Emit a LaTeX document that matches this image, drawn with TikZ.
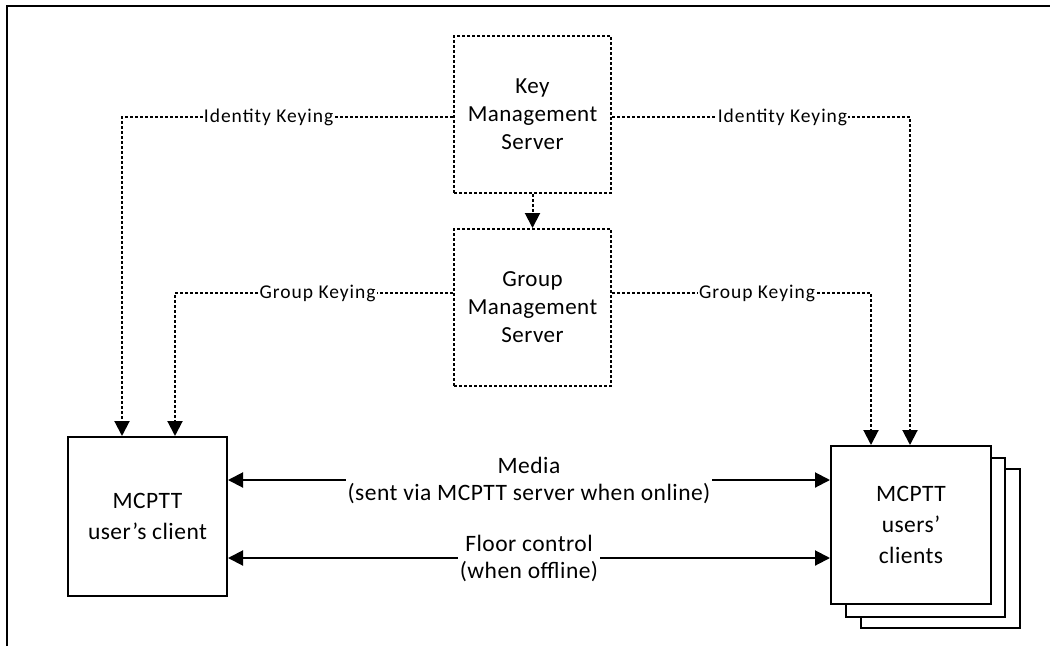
\documentclass[tikz,border=0pt]{standalone}
\usepackage{fontspec}
\setmainfont{Carlito}
\newfontfamily\lblfont[LetterSpace=5]{Carlito}
\newfontfamily\boxfont[LetterSpace=2]{Carlito}
\usetikzlibrary{arrows.meta}
\begin{document}
\begin{tikzpicture}[x=1pt,y=1pt,
  dbox/.style={draw, line width=2pt, dash pattern=on 3pt off 2pt, fill=white, align=center,
    font=\boxfont\fontsize{23}{28}\selectfont, minimum width=157pt, minimum height=157pt, inner sep=0pt},
  sbox/.style={draw, line width=2pt, fill=white, align=center,
    font=\boxfont\fontsize{23.5}{31}\selectfont, inner sep=0pt},
  conn/.style={line width=2pt, dash pattern=on 3pt off 2pt, -{Triangle[length=15pt,width=15pt]}},
  sconn/.style={line width=2pt, {Triangle[length=15pt,width=15pt]}-{Triangle[length=15pt,width=15pt]}},
  lbl/.style={fill=white, inner xsep=1pt, inner ysep=1pt, font=\lblfont\fontsize{19.5}{22}\selectfont},
  mlbl/.style={fill=white, inner xsep=2pt, inner ysep=0pt, align=center, font=\boxfont\fontsize{23.5}{27}\selectfont}]
\useasboundingbox (0,0) rectangle (1050,-646);
\draw[line width=2pt] (7,-646) -- (7,-6) -- (1050,-6);

% servers
\node[dbox] (kms) at (532.5,-114.5) {Key\\Management\\Server};
\node[dbox] (gms) at (532.5,-307.5) {Group\\Management\\Server};

% clients
\node[sbox, minimum width=159pt, minimum height=159pt] (lc) at (147.5,-516.5) {MCPTT\\user’s client};
\node[sbox, minimum width=159pt, minimum height=159pt] (rc3) at (940.5,-548.5) {};
\node[sbox, minimum width=159pt, minimum height=159pt] (rc2) at (925.5,-537.5) {};
\node[sbox, minimum width=160pt, minimum height=158pt] (rc) at (911,-525) {MCPTT\\users’\\clients};

% corners of the keying connectors
\coordinate (idL) at (122,-117);
\coordinate (idR) at (910,-117);
\coordinate (grL) at (175,-293);
\coordinate (grR) at (871,-293);

\draw[conn] (kms.west |- idL) -- node[lbl, pos=0.557] (lidl) {Identity Keying} (idL) -- (idL |- lc.north);
\draw[conn] (kms.east |- idR) -- node[lbl, pos=0.572] (lidr) {Identity Keying} (idR) -- (idR |- rc.north);
\draw[conn] (gms.west |- grL) -- node[lbl, pos=0.487] (lgrl) {Group Keying} (grL) -- (grL |- lc.north);
\draw[conn] (gms.east |- grR) -- node[lbl, pos=0.56] (lgrr) {Group Keying} (grR) -- (grR |- rc.north);
\draw[conn] (kms.south) -- (gms.north);

\draw[sconn] (lc.east |- 0,-480) -- node[mlbl] (media) {Media\\(sent via MCPTT server when online)} (rc.west |- 0,-480);
\draw[sconn] (lc.east |- 0,-558) -- node[mlbl] (floor) {Floor control\\(when offline)} (rc.west |- 0,-558);
\end{tikzpicture}
\end{document}
